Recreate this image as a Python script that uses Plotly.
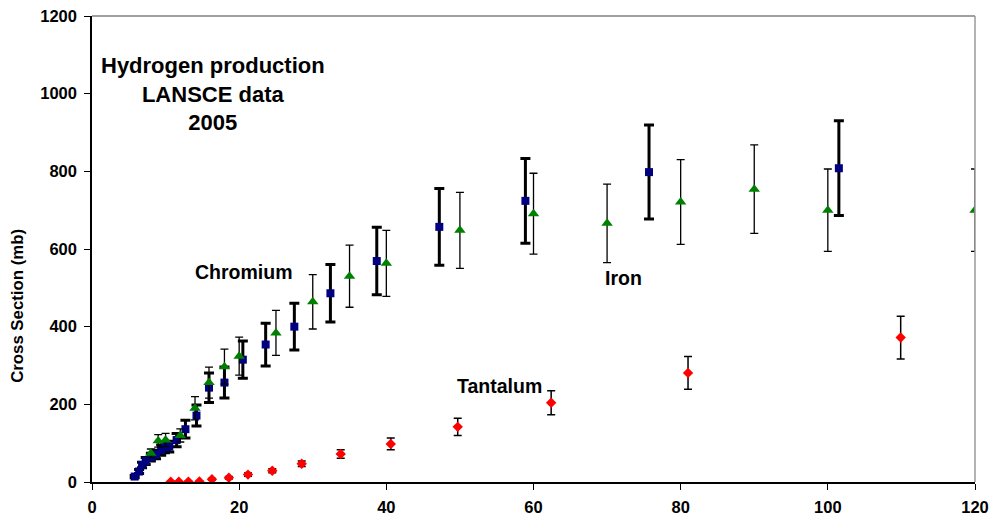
import plotly.graph_objects as go

# Hydrogen production cross sections (mb) vs proton energy, LANSCE 2005
chromium_x = [5.8, 6.4, 6.8, 7.3, 8.0, 8.7, 9.4, 9.9, 10.5, 11.5, 12.7, 14.2, 15.9,
              18.0, 20.5, 23.6, 27.5, 32.4, 38.7, 47.2, 58.9, 75.7, 101.5]
chromium_y = [14, 27, 44, 54, 64, 71, 82, 89, 91, 108, 136, 171, 243,
              256, 315, 354, 400, 486, 569, 657, 724, 798, 808]
chromium_err = [3, 5, 7, 9, 10, 11, 13, 14, 14, 17, 23, 27, 38,
                40, 48, 55, 60, 74, 87, 99, 109, 121, 122]

iron_x = [8.0, 9.0, 10.0, 12.0, 14.0, 15.9, 18.0, 20.0, 25.0, 30.0, 35.0, 40.0,
          50.0, 60.0, 70.0, 80.0, 90.0, 100.0, 120.0]
iron_y = [74, 106, 108, 120, 190, 256, 297, 324, 384, 464, 530, 563,
          648, 691, 666, 721, 754, 700, 700]
iron_err = [11, 16, 17, 17, 30, 40, 45, 49, 58, 70, 80, 85,
            98, 104, 101, 109, 114, 106, 106]

tantalum_x = [10.7, 11.8, 13.1, 14.6, 16.3, 18.6, 21.2, 24.5, 28.5, 33.8, 40.6,
              49.7, 62.4, 81.0, 109.9]
tantalum_y = [0.5, 0.8, 1, 1.5, 7, 11, 19, 29, 47, 72, 98, 142, 204, 281, 372]
tantalum_err = [0.5, 0.5, 0.5, 0.5, 2, 3, 4, 5, 7, 11, 15, 22, 31, 42, 55]

x_ticks = [0, 20, 40, 60, 80, 100, 120]
y_ticks = [0, 200, 400, 600, 800, 1000, 1200]

FONT = "Liberation Sans, Arial, sans-serif"

fig = go.Figure()

fig.add_trace(go.Scatter(
    x=chromium_x, y=chromium_y, mode="markers", name="Chromium",
    marker=dict(symbol="square", size=8, color="#000080"),
    error_y=dict(type="data", array=chromium_err, visible=True,
                 color="black", thickness=3, width=5),
))
fig.add_trace(go.Scatter(
    x=iron_x, y=iron_y, mode="markers", name="Iron",
    marker=dict(symbol="triangle-up", size=10, color="#008000"),
    error_y=dict(type="data", array=iron_err, visible=True,
                 color="black", thickness=1.3, width=4),
))
fig.add_trace(go.Scatter(
    x=tantalum_x, y=tantalum_y, mode="markers", name="Tantalum",
    marker=dict(symbol="diamond", size=8, color="#FF0000"),
    error_y=dict(type="data", array=tantalum_err, visible=True,
                 color="black", thickness=1.5, width=4),
))

label_font = dict(family=FONT, size=19.5, color="black", weight="bold")

fig.add_annotation(x=16.4, y=999, xref="x", yref="y",
                   text="Hydrogen production<br>LANSCE data<br>2005",
                   showarrow=False, align="center",
                   font=dict(family=FONT, size=22, color="black", weight="bold"))
fig.add_annotation(x=20.7, y=541, xref="x", yref="y", text="Chromium",
                   showarrow=False, font=label_font)
fig.add_annotation(x=72.2, y=525, xref="x", yref="y", text="Iron",
                   showarrow=False, font=label_font)
fig.add_annotation(x=55.4, y=247, xref="x", yref="y", text="Tantalum",
                   showarrow=False, font=label_font)

# y-axis title
fig.add_annotation(x=-0.0838, y=0.378, xref="paper", yref="paper",
                   xanchor="center", yanchor="middle",
                   text="Cross Section (mb)", textangle=-90, showarrow=False,
                   font=dict(family=FONT, size=16.8, color="black", weight="bold"))

# top and right frame of the plot area
fig.add_shape(type="line", xref="paper", yref="paper", x0=0, x1=1, y0=1, y1=1,
              line=dict(color="#808080", width=1.5))
fig.add_shape(type="line", xref="paper", yref="paper", x0=1, x1=1, y0=0, y1=1,
              line=dict(color="#9a9a9a", width=1.5))

tick_font = dict(family=FONT, size=16.5, color="black", weight="bold")

fig.update_xaxes(range=[0, 120], tickvals=x_ticks, ticks="outside", ticklen=6,
                 tickwidth=1, tickcolor="black", showline=True, linecolor="black",
                 linewidth=1.5, showgrid=False, zeroline=False, tickfont=tick_font,
                 ticklabelstandoff=3, automargin=False)
fig.update_yaxes(range=[0, 1200], tickvals=y_ticks, ticks="outside", ticklen=6,
                 tickwidth=1, tickcolor="black", showline=True, linecolor="black",
                 linewidth=1.5, showgrid=False, zeroline=False, tickfont=tick_font,
                 ticklabelstandoff=4, automargin=False)

fig.update_layout(
    width=993, height=520,
    margin=dict(l=92, r=18, t=16, b=38, autoexpand=False),
    paper_bgcolor="white", plot_bgcolor="white",
    showlegend=False,
)

fig.write_html("out.html")
